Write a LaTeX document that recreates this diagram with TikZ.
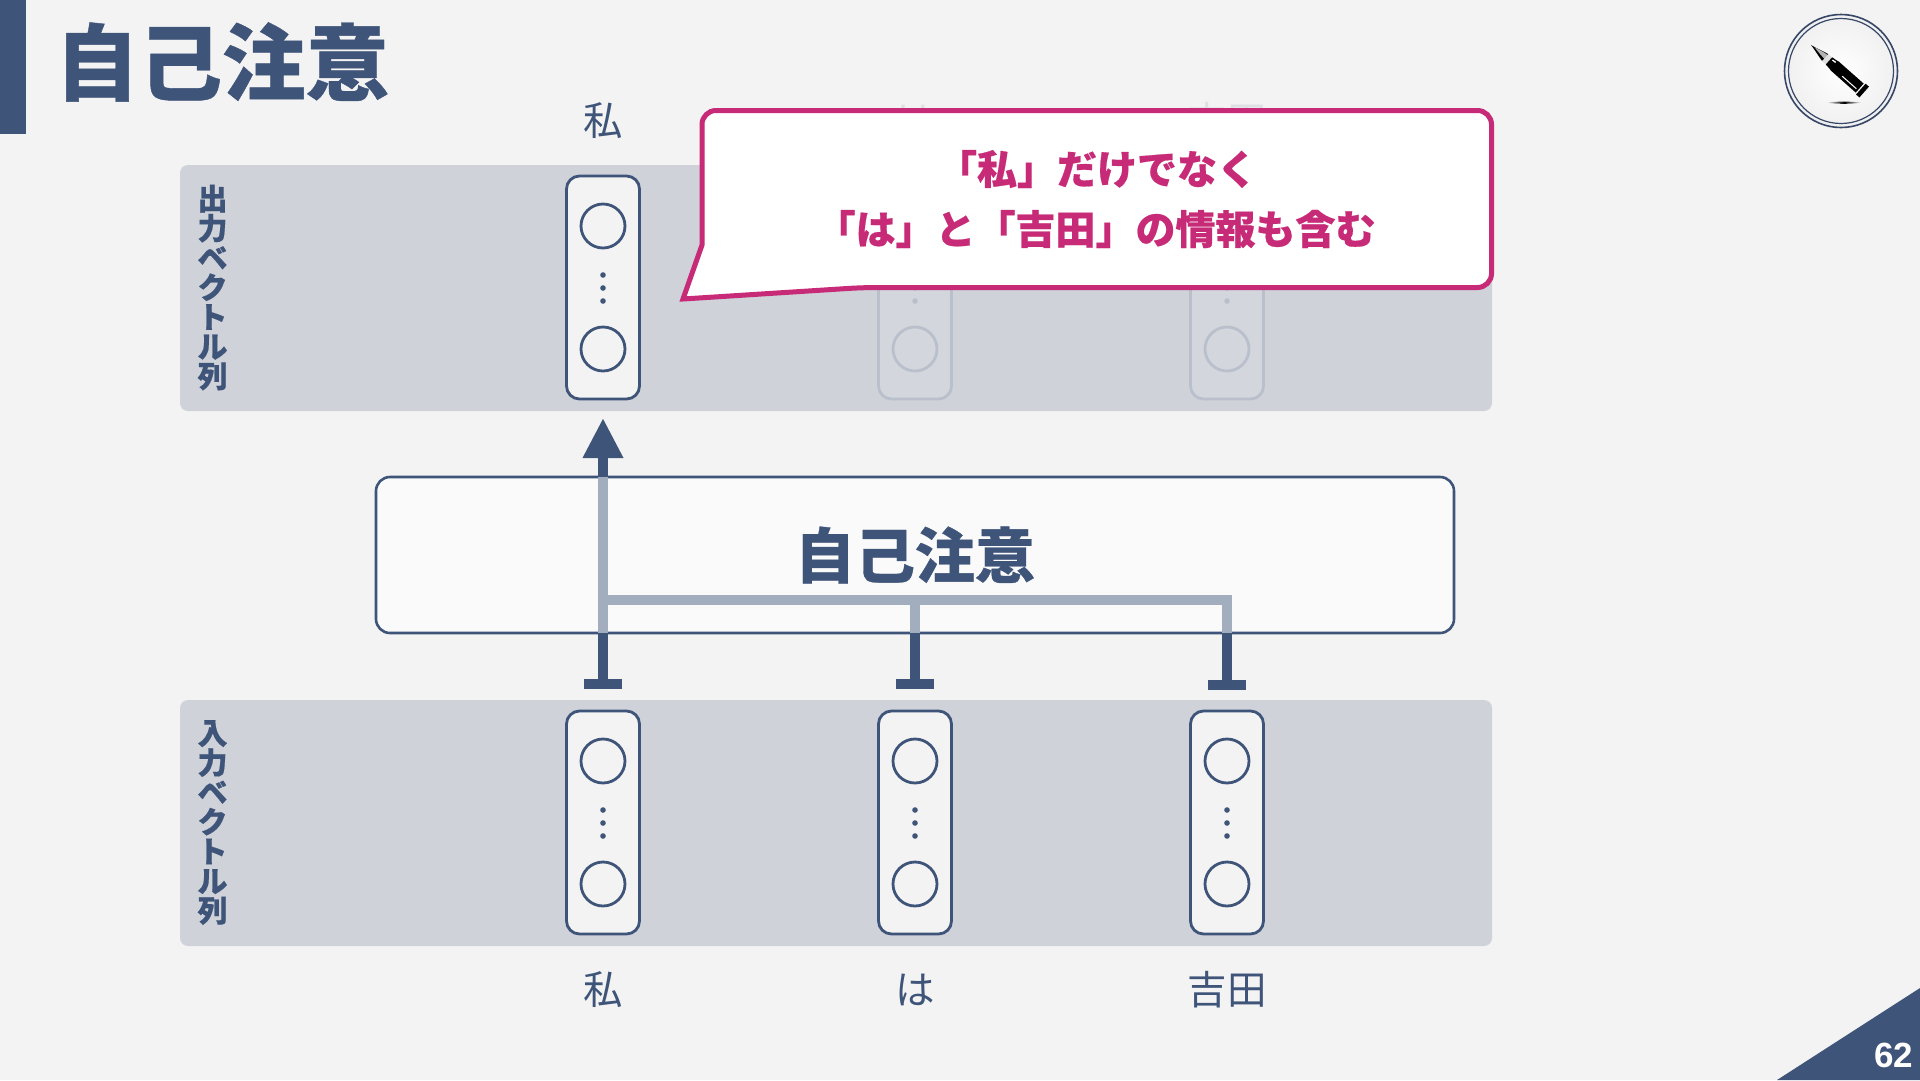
\documentclass[tikz,border=0pt]{standalone}
\usepackage{fontspec}
\usetikzlibrary{arrows.meta}
\newfontfamily\cjk{Noto Sans CJK JP Black}[FakeBold=0.5]
\newfontfamily\cjkn{Noto Sans CJK JP}
\setsansfont{Liberation Sans}
\definecolor{ink}{HTML}{3F5479}
\definecolor{paper}{HTML}{F3F3F3}
\definecolor{band}{HTML}{CFD2D9}
\definecolor{pale}{HTML}{A2ADBD}
\definecolor{mag}{HTML}{C72A76}
\definecolor{fadeline}{HTML}{B9C0CC}
\definecolor{fadefill}{HTML}{D3D6DC}
\definecolor{fadetext}{HTML}{DEE0E3}
\tikzset{
  bandbox/.style={fill=band,rounded corners=8pt,draw=none},
  vecbox/.style={draw=#1,line width=2.8pt,rounded corners=13pt,minimum width=73pt,minimum height=223pt,inner sep=0pt},
  veccirc/.style={circle,draw=#1,line width=2.8pt,minimum size=44pt,inner sep=0pt},
  vecdot/.style={circle,fill=#1,minimum size=5.6pt,inner sep=0pt},
  word/.style={text=ink,inner sep=0pt,font=\cjkn\fontsize{39.5}{39.5}\selectfont},
  sidelabel/.style={text=ink,inner sep=0pt,align=center,font=\cjk\fontsize{30}{29.6}\selectfont},
  stemdark/.style={draw=ink,line width=9.6pt},
  stempale/.style={draw=pale,line width=9.6pt,line join=miter},
  capped/.style={{Rectangle[length=10pt,width=38pt]}-},
  headed/.style={-{Triangle[length=40pt,width=38pt]}},
}
\newcommand{\vecunit}[5]{% name, x, centre y, line colour, box fill
  \node[vecbox=#4,fill=#5] (#1) at (#2,#3) {};
  \node[veccirc=#4] (#1a) at (#2,#3-61.5) {};
  \node[veccirc=#4] (#1b) at (#2,#3+61.5) {};
  \node[vecdot=#4] (#1c) at (#2,#3-12.5) {};
  \node[vecdot=#4] (#1d) at (#2,#3+0.5) {};
  \node[vecdot=#4] (#1e) at (#2,#3+13.5) {};
}
\begin{document}
\begin{tikzpicture}[x=1pt,y=-1pt]
\useasboundingbox (0,0) rectangle (1920,1080);
\fill[paper] (0,0) rectangle (1920,1080);
% header
\fill[ink] (0,0) rectangle (26,134);
\node[text=ink,inner sep=0pt,anchor=west,font=\cjk\fontsize{83.5}{83.5}\selectfont] (title) at (55,62) {自己注意};
% badge
\shade[inner color=white,outer color=white!94!black] (1841,71) circle (56);
\draw[draw=ink!85!black,line width=1.6pt] (1841,71) circle (56.5);
\draw[draw=ink!85!black,line width=1.2pt] (1841,71) circle (52.5);
\begin{scope}[shift={(1811,45)},rotate=-41.5]
  \fill[black] (0,0) .. controls (8,-1.5) and (14,-3.8) .. (19,-4.6) -- (19,4.6) .. controls (14,3.8) and (8,1.5) .. (0,0) -- cycle;
  \fill[gray!60] (4,-0.8) .. controls (9,-1.8) and (14,-3.2) .. (19,-3.6) -- (19,1.5) .. controls (14,1) and (9,0.4) .. (4,-0.8) -- cycle;
  \fill[gray!25] (19,-4.6) -- (24,-4.8) -- (24,4.8) -- (19,4.6) -- cycle;
  \fill[black] (24,-4.8) -- (29,-5.4) -- (32,-6) -- (65,-6) -- (65,6) -- (32,6) -- (29,5.4) -- (24,4.8) -- cycle;
  \fill[white] (26,-3.6) -- (30,-4) -- (30,-2.6) -- (26,-2.4) -- cycle;
  \fill[white] (44,2.2) rectangle (63,3.2);
  \fill[black] (66.5,-7.2) rectangle (71,7.2);
\end{scope}
\shade[left color=white,right color=white,middle color=black] (1826,102.6) .. controls (1836,101.3) and (1851,101.3) .. (1862,102.6) .. controls (1851,104.2) and (1836,104.2) .. (1826,102.6) -- cycle;
% bands
\path[bandbox] (180,165) rectangle (1492,411);
\path[bandbox] (180,700) rectangle (1492,946);
\node[sidelabel] (outlabel) at (212.5,287.5) {出\\力\\ベ\\ク\\ト\\ル\\列};
\node[sidelabel] (inlabel) at (212.5,822.5) {入\\力\\ベ\\ク\\ト\\ル\\列};
% output vectors
\vecunit{o1}{603}{287.5}{ink}{paper}
\vecunit{o2}{915}{287.5}{fadeline}{fadefill}
\vecunit{o3}{1227}{287.5}{fadeline}{fadefill}
% input vectors
\vecunit{i1}{603}{822.5}{ink}{paper}
\vecunit{i2}{915}{822.5}{ink}{paper}
\vecunit{i3}{1227}{822.5}{ink}{paper}
% words
\node[word] (wo1) at (603,121) {私};
\node[word,text=fadetext] (wo2) at (915,121) {は};
\node[word,text=fadetext] (wo3) at (1227,121) {吉田};
\node[word] (wi1) at (603,990) {私};
\node[word] (wi2) at (915,990) {は};
\node[word] (wi3) at (1227,990) {吉田};
% self-attention block
\node[draw=ink,fill=white!60!paper,line width=2.6pt,rounded corners=14pt,minimum width=1078pt,minimum height=156pt,inner sep=0pt] (sa) at (915,555) {};
% connectors
\coordinate (s1) at (603,689);
\coordinate (s2) at (915,689);
\coordinate (s3) at (1227,690);
\coordinate (b1) at (603,633);
\coordinate (b2) at (915,633);
\coordinate (b3) at (1227,633);
\coordinate (t1) at (603,477);
\coordinate (tip) at (603,418);
\coordinate (j2) at (915,600);
\coordinate (j3) at (1227,600);
\coordinate (j1) at (603,600);
\draw[stempale] (b3) -- (j3) -- (j1);
\draw[stempale] (b2) -- (j2);
\draw[stempale] (b1) -- (t1);
\draw[stemdark,capped] (s1) -- (b1);
\draw[stemdark,capped] (s2) -- (b2);
\draw[stemdark,capped] (s3) -- (b3);
\draw[stemdark,headed] (t1) -- (tip);
\node[text=ink,inner sep=0pt,font=\cjk\fontsize{60}{60}\selectfont] (satext) at (915,555) {自己注意};
% callout
\draw[draw=mag,fill=white,line width=5pt,line join=miter] (702,245) [rounded corners=14pt] -- (702,110.5) -- (1491.5,110.5) -- (1491.5,287.5) -- (863,287.5) [sharp corners] -- (683,299) -- cycle;
\node[text=mag,inner sep=0pt,font=\cjk\fontsize{40}{40}\selectfont] (c1) at (1097,169) {「私」だけでなく};
\node[text=mag,inner sep=0pt,font=\cjk\fontsize{40}{40}\selectfont] (c2) at (1095.5,229) {「は」と「吉田」の情報も含む};
% page corner
\fill[ink] (1777,1080) -- (1920,988) -- (1920,1080) -- cycle;
\node[text=white,inner sep=0pt,font=\sffamily\bfseries\fontsize{35}{35}\selectfont] (page) at (1893.5,1055.5) {62};
\end{tikzpicture}
\end{document}
